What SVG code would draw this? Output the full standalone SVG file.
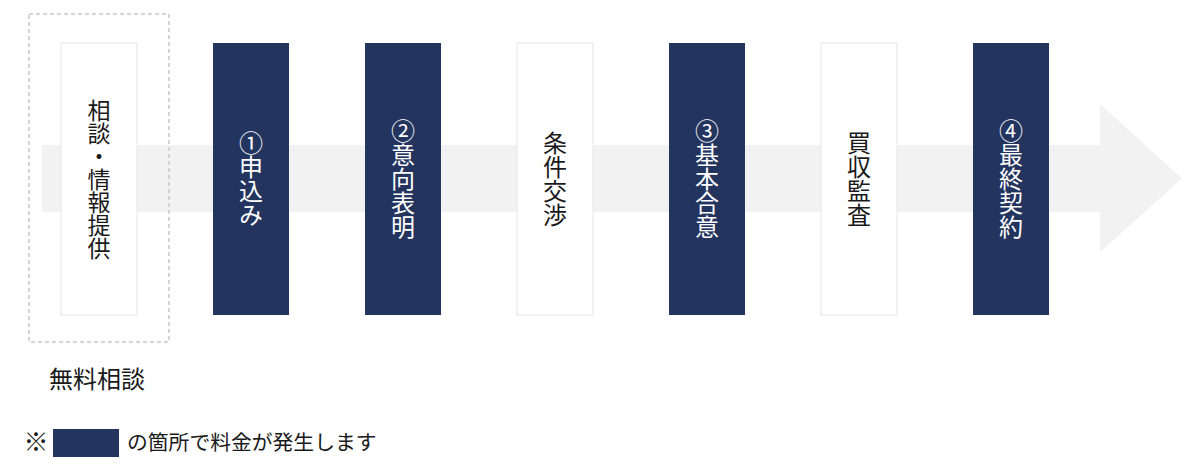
<svg xmlns="http://www.w3.org/2000/svg" width="1200" height="469" viewBox="0 0 1200 469">
<style>
.t{font-family:"Noto Sans CJK JP","Noto Sans CJK SC",sans-serif;font-size:24px;writing-mode:vertical-rl;text-anchor:middle}
.w rect{fill:#ffffff;stroke:#e6e6e6;stroke-width:1}
.w text{fill:#1a1a1a}
.d rect{fill:#23345f}
.d text{fill:#ffffff}
.h{font-family:"Noto Sans CJK JP","Noto Sans CJK SC",sans-serif;fill:#1a1a1a}
</style>
<rect width="1200" height="469" fill="#ffffff"/>
<g id="flow-arrow">
<polygon points="42,145 1100,145 1100,104 1182,178.5 1100,252 1100,212 42,212" fill="#f2f2f2"/>
</g>
<g id="free-area">
<rect x="29" y="14" width="140" height="328" fill="none" stroke="#c8c8c8" stroke-width="1.5" stroke-dasharray="4 3"/>
</g>
<g id="connectors"></g>
<g id="n0" class="w"><rect x="61" y="43" width="76" height="272"/><text class="t" x="99" y="179" style="font-size:23px">相談・情報提供</text></g>
<g id="n1" class="d"><rect x="213" y="43" width="76" height="272"/><text class="t" x="251" y="179">①申込み</text></g>
<g id="n2" class="d"><rect x="365" y="43" width="76" height="272"/><text class="t" x="403" y="179">②意向表明</text></g>
<g id="n3" class="w"><rect x="517" y="43" width="76" height="272"/><text class="t" x="555" y="179">条件交渉</text></g>
<g id="n4" class="d"><rect x="669" y="43" width="76" height="272"/><text class="t" x="707" y="179">③基本合意</text></g>
<g id="n5" class="w"><rect x="821" y="43" width="76" height="272"/><text class="t" x="859" y="179">買収監査</text></g>
<g id="n6" class="d"><rect x="973" y="43" width="76" height="272"/><text class="t" x="1011" y="179">④最終契約</text></g>
<g id="free-label"><text class="h" x="49" y="388" font-size="24">無料相談</text></g>
<g id="legend">
<text class="h" x="36" y="451" font-size="25" text-anchor="middle">※</text>
<rect x="53" y="429" width="66" height="28" fill="#23345f"/>
<text class="h" x="127" y="450" font-size="20.8">の箇所で料金が発生します</text>
</g>
</svg>
